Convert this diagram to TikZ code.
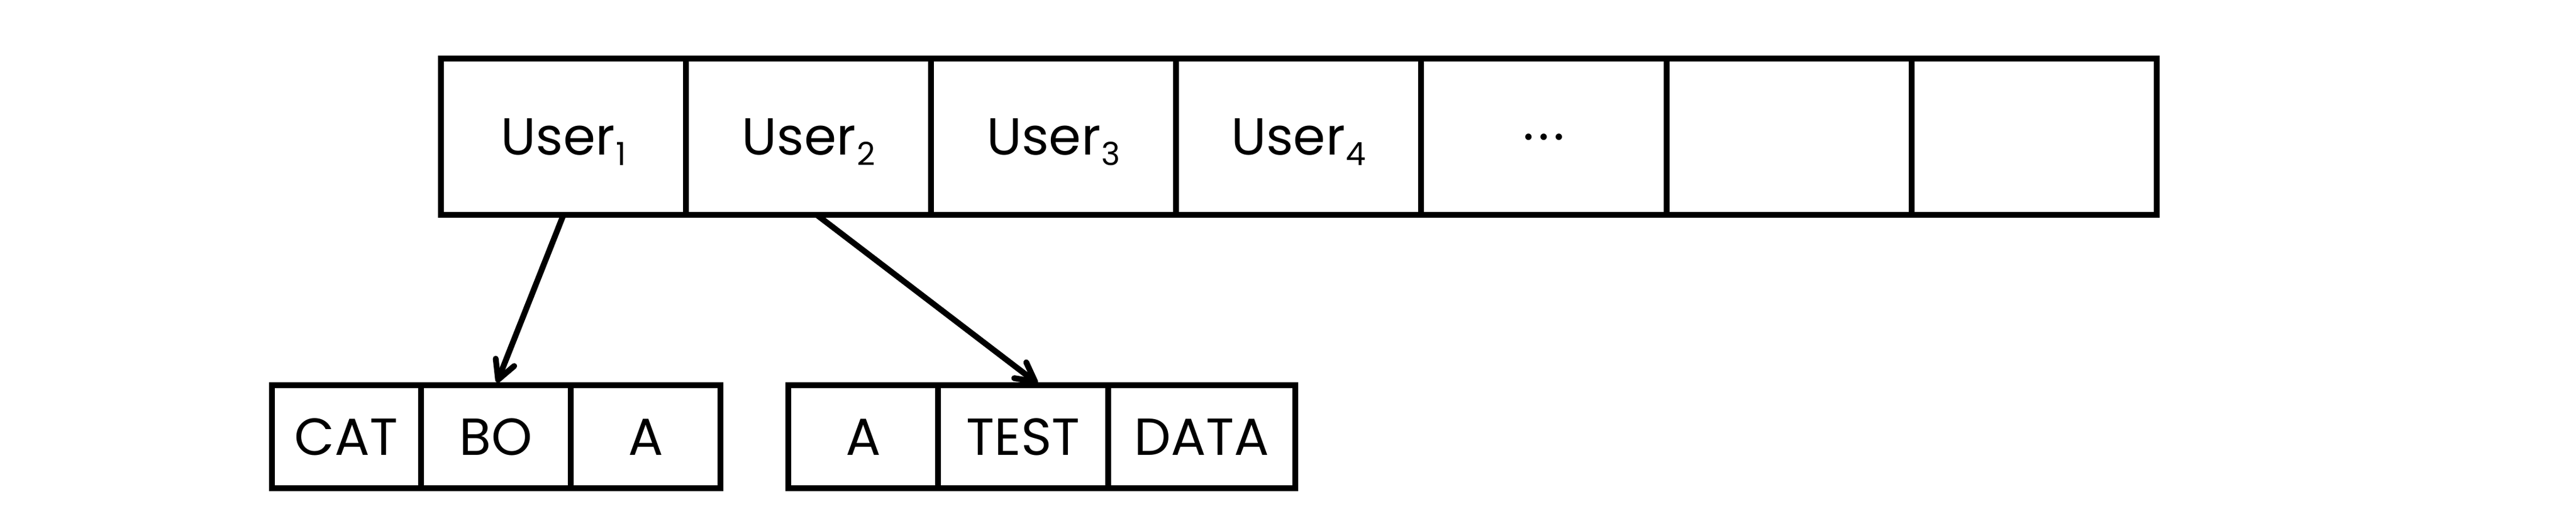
\documentclass[tikz,border=0pt]{standalone}
\usepackage{fontspec}
\setmainfont{Poppins}
\usetikzlibrary{arrows.meta,calc}
\newcommand\usub[1]{\kern0.5pt\raisebox{-5pt}{\fontsize{15.5pt}{16pt}\selectfont #1}}
\tikzset{
  cell/.style={draw=black, line width=0.1cm, inner sep=0pt, outer sep=0pt,
    font=\fontsize{25.3pt}{30pt}\selectfont, text height=0.62cm, text depth=0pt},
  topcell/.style={cell, minimum width=4.191cm, minimum height=2.67cm},
  botcell/.style={cell, minimum height=1.76cm},
  link/.style={line width=0.1cm, line cap=round,
    -{Straight Barb[length=3.2mm,width=3.4mm,round]}, shorten >=0.5mm}
}
\begin{document}
\begin{tikzpicture}
\useasboundingbox (0,0) rectangle (44.05,-8.89);
% top array
\node[topcell] (u1) at (9.6355,-2.335) {User\usub{1}};
\node[topcell] (u2) at (13.8265,-2.335) {User\usub{2}};
\node[topcell] (u3) at (18.0175,-2.335) {User\usub{3}};
\node[topcell] (u4) at (22.2085,-2.335) {User\usub{4}};
\node[topcell] (u5) at (26.3995,-2.335) {·\kern2pt·\kern2pt·};
\node[topcell] (u6) at (30.5905,-2.335) {};
\node[topcell] (u7) at (34.7815,-2.335) {};
% first list
\node[botcell, minimum width=2.555cm] (cat) at (5.9225,-7.46) {CAT};
\node[botcell, minimum width=2.56cm] (bo) at (8.48,-7.46) {BO};
\node[botcell, minimum width=2.56cm] (a1) at (11.04,-7.46) {A};
% second list
\node[botcell, minimum width=2.56cm] (a2) at (14.76,-7.46) {A};
\node[botcell, minimum width=2.91cm] (test) at (17.495,-7.46) {TEST};
\node[botcell, minimum width=3.20cm] (data) at (20.55,-7.46) {DATA};
% links
\draw[link] (u1.south) -- (bo.north);
\draw[link] ($(u2.south)+(0.14,0)$) -- ($(test.north)+(0.285,0)$);
\end{tikzpicture}
\end{document}
